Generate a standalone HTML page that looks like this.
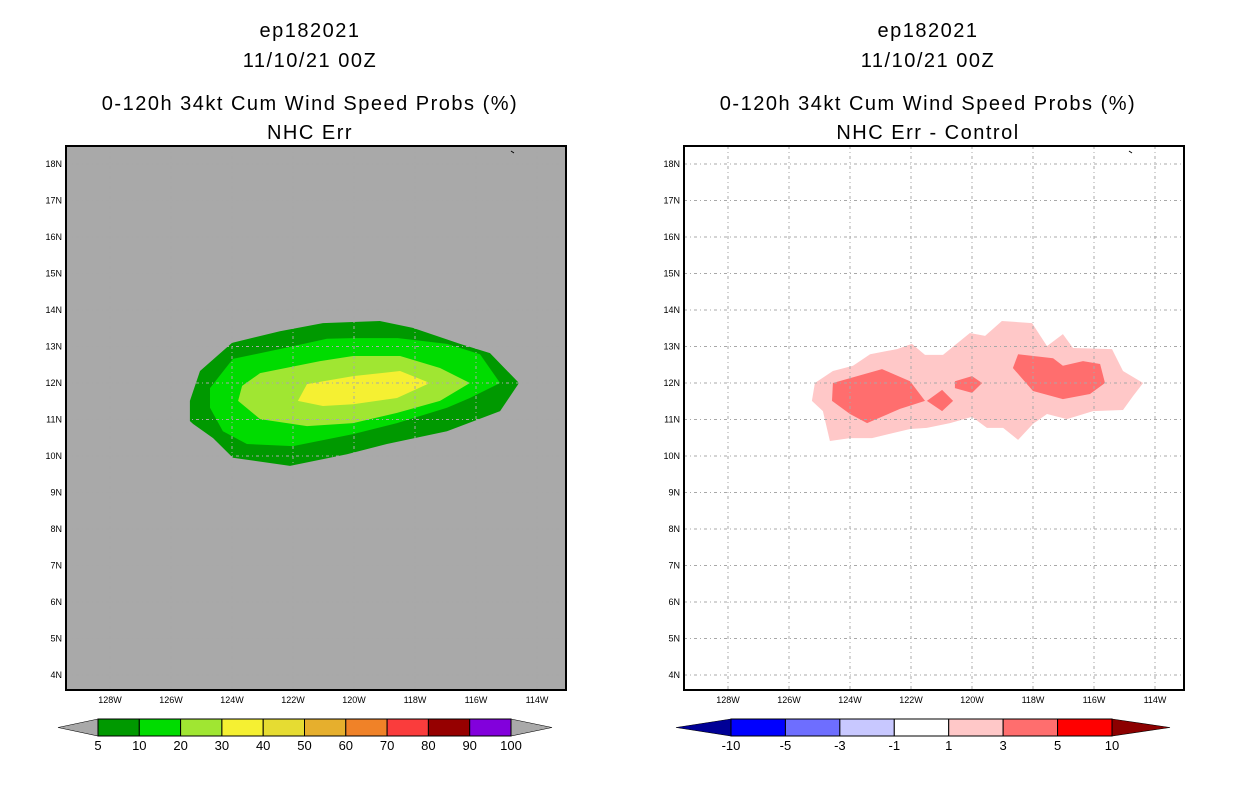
<!DOCTYPE html>
<html><head><meta charset="utf-8"><style>
body{margin:0;background:#fff;width:1236px;height:800px;overflow:hidden;font-family:"Liberation Sans",sans-serif}
svg text{font-family:"Liberation Sans",sans-serif}
</style></head><body>
<svg id="s" width="1236" height="800" xmlns="http://www.w3.org/2000/svg"></svg>
<script>
// ---- data ----
const lonTicks=[-128,-126,-124,-122,-120,-118,-116,-114];
const latTicks=[18,17,16,15,14,13,12,11,10,9,8,7,6,5,4];
const leftLevels=['5','10','20','30','40','50','60','70','80','90','100'];
const leftColors=['#009900','#00dc00','#a0e632','#f5f032','#e6dc32','#e6af2d','#f08228','#fa3c3c','#960000','#8200dc'];
const rightLevels=['-10','-5','-3','-1','1','3','5','10'];
const rightColors=['#000096','#0000ff','#6e6eff','#c8c8ff','#ffffff','#ffc8c8','#ff6e6e','#ff0000','#8c0000'];
const prob5=[[-125.38,10.96],[-125.38,11.51],[-125.05,12.33],[-124.0,13.10],[-122.43,13.42],[-121.02,13.64],[-119.15,13.70],[-118.07,13.51],[-116.52,13.07],[-115.54,12.82],[-114.59,12.0],[-115.21,11.23],[-116.95,10.68],[-118.92,10.33],[-120.23,10.05],[-122.10,9.73],[-123.97,9.95],[-124.62,10.49],[-125.28,10.88]];
const prob10=[[-124.72,11.86],[-123.97,12.66],[-122.10,12.99],[-120.89,13.21],[-120.03,13.23],[-118.56,13.23],[-116.95,13.07],[-115.87,12.79],[-115.21,12.0],[-116.20,11.59],[-116.95,11.32],[-118.59,10.90],[-120.03,10.60],[-122.0,10.27],[-123.51,10.33],[-124.30,10.68],[-124.72,11.32]];
const prob20=[[-123.67,11.92],[-123.08,12.27],[-121.11,12.60],[-120.03,12.74],[-118.49,12.74],[-117.18,12.41],[-116.20,12.0],[-117.18,11.51],[-118.59,11.18],[-120.03,10.90],[-121.54,10.82],[-123.08,11.01],[-123.80,11.51]];
const prob30=[[-121.54,11.97],[-120.03,12.19],[-118.49,12.33],[-117.51,12.0],[-118.59,11.59],[-120.03,11.42],[-121.02,11.37],[-121.84,11.51]];
const diff1=[[-125.25,11.51],[-125.15,12],[-124.56,12.33],[-123.90,12.47],[-123.34,12.79],[-122.46,12.93],[-121.97,13.07],[-121.54,12.77],[-120.95,12.77],[-120.07,13.37],[-119.57,13.29],[-119.02,13.70],[-118.03,13.64],[-117.54,13.01],[-117.02,13.34],[-116.69,12.96],[-115.41,12.93],[-115.05,12.33],[-114.39,12],[-114.72,11.64],[-115.05,11.26],[-116.03,11.23],[-116.89,11.01],[-117.54,11.15],[-118.0,10.88],[-118.49,10.44],[-118.98,10.77],[-119.51,10.77],[-120.0,11.07],[-120.72,10.90],[-121.48,10.77],[-122.03,10.74],[-123.28,10.49],[-124.0,10.49],[-124.66,10.41],[-124.89,11.23]];
const diff3a=[[-124.56,12],[-122.95,12.38],[-122.03,12.05],[-121.54,11.51],[-122.36,11.29],[-123.44,10.90],[-124.0,11.15],[-124.59,11.51]];
const diff3b=[[-121.48,11.51],[-120.98,11.81],[-120.62,11.51],[-120.98,11.23]];
const diff3c=[[-120.56,12.05],[-120.0,12.19],[-119.67,12],[-120.0,11.73],[-120.56,11.86]];
const diff3d=[[-118.49,12.79],[-117.34,12.68],[-117.02,12.47],[-116.36,12.60],[-115.80,12.52],[-115.64,12],[-116.13,11.70],[-117.02,11.56],[-118.0,11.78],[-118.66,12.41]];
// ---- drawing ----
const S=document.getElementById('s');const NS='http://www.w3.org/2000/svg';
function mk(t,a,p){const e=document.createElementNS(NS,t);for(const k in a)e.setAttribute(k,a[k]);(p||S).appendChild(e);return e;}
function panel(x0,bg,name){
  const g=mk('g',{});
  
  
  const X=lon=>x0+110+(lon+128)*30.5;
  const Y=lat=>164+(18-lat)*36.5;
  mk('rect',{x:x0+66,y:146,width:500,height:544,fill:bg},g);
  return {g,X,Y,x0};
}
function poly(P,pts,fill,name){
  const e=mk('polygon',{points:pts.map(p=>P.X(p[0]).toFixed(1)+','+P.Y(p[1]).toFixed(1)).join(' '),fill:fill},P.g);
  
  
}
function grid(P){
  lonTicks.forEach(l=>{mk('line',{x1:P.X(l),x2:P.X(l),y1:146,y2:690,stroke:'#a8a8a8','stroke-dasharray':'3,3,1,3'},P.g);
    const t=mk('text',{x:P.X(l),y:703,'font-size':9,'text-anchor':'middle'},P.g);t.textContent=(-l)+'W';
    
    });
  latTicks.forEach(l=>{mk('line',{x1:P.x0+66,x2:P.x0+566,y1:P.Y(l),y2:P.Y(l),stroke:'#a8a8a8','stroke-dasharray':'3,3,1,3'},P.g);
    const t=mk('text',{x:P.x0+62,y:P.Y(l)+3,'font-size':9,'text-anchor':'end'},P.g);t.textContent=l+'N';
    
    });
  mk('line',{x1:P.x0+511,y1:151,x2:P.x0+514,y2:153,stroke:'#000'},P.g);
  mk('rect',{x:P.x0+66,y:146,width:500,height:544,fill:'none',stroke:'#000','stroke-width':2},P.g);
}
function titles(cx,l4){
  [['ep182021',37],['11/10/21 00Z',67],['0-120h 34kt Cum Wind Speed Probs (%)',110],[l4,139]].forEach((a,i)=>{
    const t=mk('text',{x:cx,y:a[1],'font-size':20,'text-anchor':'middle','letter-spacing':1.5});t.textContent=a[0];
    
    });
}
const L=panel(0,'#a9a9a9','left-map');
poly(L,prob5,leftColors[0],'prob-5');poly(L,prob10,leftColors[1],'prob-10');poly(L,prob20,leftColors[2],'prob-20');poly(L,prob30,leftColors[3],'prob-30');
grid(L);titles(310,'NHC Err');
const R=panel(618,'#ffffff','right-map');
poly(R,diff1,rightColors[5],'diff-1');
[diff3a,diff3b,diff3c,diff3d].forEach(d=>poly(R,d,rightColors[6],'diff-3'));
grid(R);titles(928,'NHC Err - Control');
// colorbars
function cbar(x1,x2,tl,tr,colors,labels,triL,triR,name){
  const g=mk('g',{});
  
  
  const n=colors.length,w=(x2-x1)/n,y=719,h=17;
  mk('polygon',{points:`${x1},${y} ${tl},${y+h/2} ${x1},${y+h}`,fill:triL,stroke:'#000','stroke-width':0.6},g);
  mk('polygon',{points:`${x2},${y} ${tr},${y+h/2} ${x2},${y+h}`,fill:triR,stroke:'#000','stroke-width':0.6},g);
  colors.forEach((c,i)=>mk('rect',{x:x1+i*w,y:y,width:w,height:h,fill:c,stroke:'#000','stroke-width':1},g));
  labels.forEach((lb,i)=>{const t=mk('text',{x:x1+i*w,y:750,'font-size':13,'text-anchor':'middle'},g);t.textContent=lb;
    
    });
}
cbar(98,511,58,552,leftColors,leftLevels,'#a9a9a9','#a9a9a9','left-colorbar');
cbar(731,1112,676,1170,rightColors.slice(1,8),rightLevels,rightColors[0],rightColors[8],'right-colorbar');
</script>
</body></html>
